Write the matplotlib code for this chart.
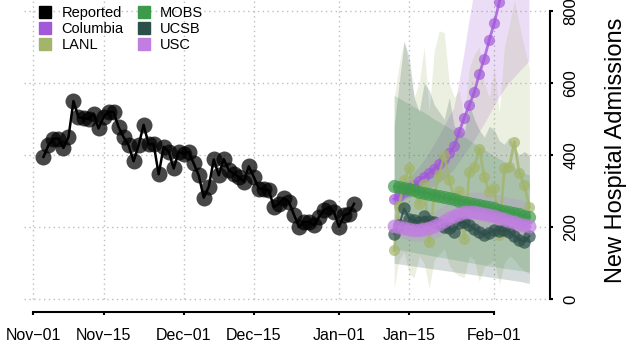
import numpy as np
import pandas as pd
import matplotlib
matplotlib.use("Agg")
import matplotlib.pyplot as plt
import matplotlib.dates as mdates
from matplotlib.lines import Line2D

plt.rcParams['font.family'] = ['Liberation Sans', 'DejaVu Sans']

# ---- data ----
reported_dates = pd.date_range('2020-11-03', periods=63)
reported = [395, 427, 446, 446, 420, 450, 550, 505, 503, 500, 515, 474, 506, 520, 520,
            478, 450, 427, 383, 427, 484, 430, 431, 347, 423, 410, 363, 409, 404, 409,
            377, 344, 282, 312, 388, 344, 389, 358, 349, 339, 326, 369, 339, 307, 307,
            302, 256, 265, 282, 270, 235, 201, 215, 215, 205, 228, 247, 256, 242, 201,
            233, 238, 265]

fc_dates = pd.date_range('2021-01-12', periods=28)

columbia = [278, 288, 298, 308, 318, 328, 339, 350, 362, 375, 390, 405, 425, 465,
            504, 538, 575, 625, 668, 720, 767, 825, 885, 950, 1020, 1095, 1175, 1260]
columbia_lo = [262, 268, 274, 280, 286, 292, 298, 305, 313, 322, 333, 345, 360, 380,
               400, 420, 440, 462, 485, 510, 535, 560, 580, 600, 615, 630, 645, 660]
columbia_hi = [300, 310, 322, 335, 350, 366, 384, 405, 428, 452, 478, 505, 530, 600,
               680, 770, 850, 940, 1000, 1100, 1200, 1300, 1400, 1500, 1600, 1700, 1800, 1900]

lanl = [136, 260, 330, 363, 300, 265, 320, 159, 290, 345, 400, 330, 280, 300,
        168, 353, 367, 418, 340, 298, 310, 178, 363, 367, 437, 350, 316, 256]
lanl_lo = [30, 110, 130, 70, 60, 120, 100, 30, 110, 125, 140, 95, 75, 65,
           60, 120, 110, 50, 90, 100, 110, 40, 100, 120, 110, 90, 80, 70]
lanl_hi = [560, 650, 720, 640, 560, 600, 700, 520, 690, 745, 740, 600, 560, 580,
           500, 640, 680, 700, 600, 560, 640, 520, 700, 760, 830, 760, 700, 640]

mobs = [314, 311, 308, 305, 302, 299, 296, 293, 290, 286, 283, 280, 277, 274,
        271, 268, 265, 262, 258, 255, 252, 249, 246, 243, 240, 236, 232, 228]
mobs_lo = [140, 137, 135, 132, 130, 127, 125, 122, 120, 117, 115, 112, 110, 107,
           105, 102, 100, 97, 95, 92, 90, 88, 86, 84, 82, 80, 78, 76]
mobs_hi = [566, 558, 550, 542, 534, 526, 518, 510, 500, 492, 484, 476, 468, 458,
           450, 442, 432, 424, 416, 406, 398, 390, 382, 374, 366, 358, 350, 345]

ucsb = [182, 205, 252, 224, 219, 215, 230, 216, 215, 210, 201, 198, 188, 212,
        214, 205, 196, 186, 178, 185, 192, 190, 191, 188, 175, 165, 159, 175]
ucsb_lo = [100, 98, 96, 94, 92, 90, 88, 86, 84, 82, 80, 78, 76, 74,
           72, 70, 68, 66, 64, 62, 60, 58, 56, 54, 52, 50, 47, 44]
ucsb_hi = [480, 600, 714, 672, 560, 520, 600, 580, 540, 520, 500, 560, 480, 470,
           460, 540, 500, 470, 450, 480, 470, 440, 430, 450, 420, 400, 410, 400]

usc = [204, 200, 197, 195, 193, 193, 195, 198, 203, 210, 217, 225, 232, 238,
       242, 243, 242, 240, 237, 234, 230, 226, 222, 218, 214, 210, 206, 202]
usc_lo = [175, 171, 168, 165, 162, 161, 162, 164, 168, 174, 180, 187, 193, 198,
          201, 201, 199, 196, 193, 189, 185, 181, 177, 173, 169, 165, 161, 157]
usc_hi = [235, 232, 230, 228, 227, 228, 231, 236, 243, 252, 261, 271, 280, 288,
          294, 297, 298, 298, 297, 295, 292, 289, 286, 283, 280, 277, 274, 271]

tick_dates = pd.to_datetime(['2020-11-01', '2020-11-15', '2020-12-01', '2020-12-15',
                             '2021-01-01', '2021-01-15', '2021-02-01'])
tick_labels = ['Nov\u221201', 'Nov\u221215', 'Dec\u221201', 'Dec\u221215',
               'Jan\u221201', 'Jan\u221215', 'Feb\u221201']
y_ticks = [0, 200, 400, 600, 800]

models = ['Columbia', 'LANL', 'MOBS', 'UCSB', 'USC']
colors = {'Columbia': '#A259D9', 'LANL': '#A2B56B', 'MOBS': '#3D9A4B',
          'UCSB': '#2D4F4A', 'USC': '#C07FE0'}
series = {'Columbia': (columbia, columbia_lo, columbia_hi),
          'LANL': (lanl, lanl_lo, lanl_hi),
          'MOBS': (mobs, mobs_lo, mobs_hi),
          'UCSB': (ucsb, ucsb_lo, ucsb_hi),
          'USC': (usc, usc_lo, usc_hi)}
msize = {'Columbia': 8, 'LANL': 8, 'MOBS': 9.5, 'UCSB': 9, 'USC': 10}

# ---- figure ----
W, H = 627, 351
fig = plt.figure(figsize=(W / 100, H / 100), dpi=100)
ax = fig.add_axes([24 / W, 1 - 312 / H, (550 - 24) / W, 312 / H])

tick_nums = mdates.date2num(tick_dates)
d0 = tick_nums[0]
ppd = 5.01  # pixels per day
ax.set_xlim(d0 + (24 - 33.4) / ppd, d0 + (550 - 33.4) / ppd)
ppv = 0.3604  # pixels per admission
ax.set_ylim(-(312 - 299.3) / ppv, 299.3 / ppv)

# grid (R style dotted)
for yv in y_ticks:
    ax.axhline(yv, color='#BEBEBE', lw=1, ls=(0, (1, 2.5)), zorder=0)
ax.vlines(tick_nums, 0, ax.get_ylim()[1], color='#BEBEBE', lw=1, ls=(0, (1, 2.5)), zorder=0)

# bands
for m in models:
    mid, lo, hi = series[m]
    ax.fill_between(fc_dates, lo, hi, color=colors[m], alpha=0.2, lw=0, zorder=1)

# reported
ax.plot(reported_dates, reported, color='black', lw=1.8, zorder=3)
ax.plot(reported_dates, reported, 'o', color='black', alpha=0.72, ms=11.5, mew=0, zorder=3)

# model lines
for m in models:
    mid = series[m][0]
    lw = 2 if m in ('LANL', 'Columbia') else 1.5
    ax.plot(fc_dates, mid, color=colors[m], lw=lw, alpha=0.8, zorder=4)
    ax.plot(fc_dates, mid, 'o', color=colors[m], alpha=0.7, ms=msize[m], mew=0, zorder=4)

# axes
for s in ['left', 'top']:
    ax.spines[s].set_visible(False)
ax.spines['bottom'].set_bounds(tick_nums[0], tick_nums[-1])
ax.spines['right'].set_bounds(0, 800)
ax.spines['bottom'].set_linewidth(1.5)
ax.spines['right'].set_linewidth(1.5)
ax.set_xticks(tick_nums)
ax.set_xticklabels(tick_labels)
ax.yaxis.tick_right()
ax.set_yticks(y_ticks)
ax.set_yticklabels([str(v) for v in y_ticks], rotation=90, va='center')
ax.tick_params(axis='x', length=2.5, width=1.5, labelsize=11.5, pad=9)
ax.tick_params(axis='y', length=2.5, width=1.5, labelsize=12, pad=7)
ax.set_facecolor('none')

fig.text(616 / W, 1 - 150 / H, 'New Hospital Admissions', rotation=90,
         ha='center', va='center', fontsize=17)

# legend
handles = [Line2D([], [], marker='s', ls='none', color='black', ms=8)]
labels = ['Reported']
for m in models:
    handles.append(Line2D([], [], marker='s', ls='none', color=colors[m], ms=8))
    labels.append(m)
fig.legend(handles, labels, ncol=2, loc='upper left', bbox_to_anchor=(28 / W, 1.0 + 4 / H),
           frameon=False, fontsize=10.5, handlelength=1.0, handletextpad=0.6,
           labelspacing=0.12, columnspacing=0.9, borderpad=0.2)

fig.savefig('out.png', dpi=100)
